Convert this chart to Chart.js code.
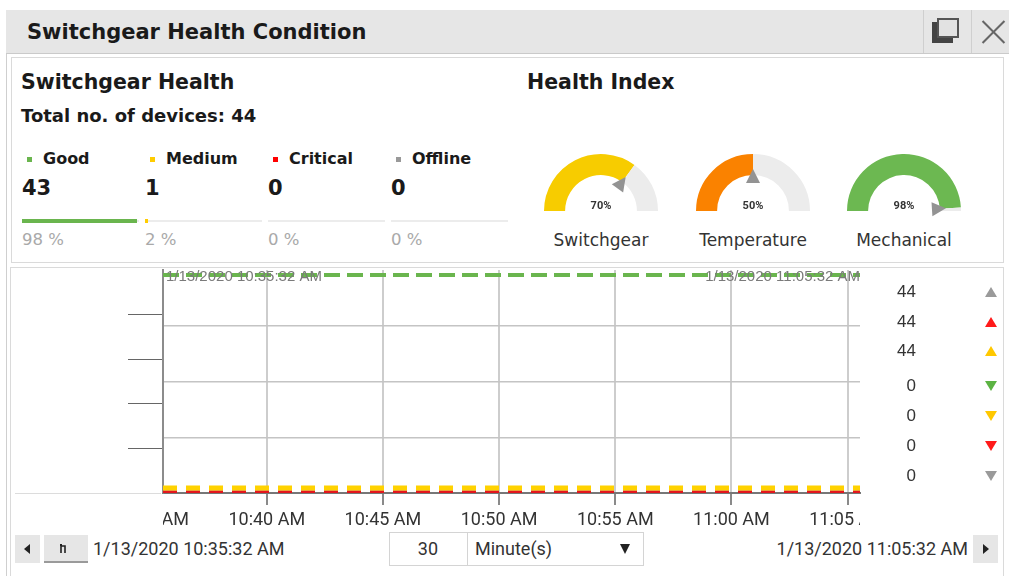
<!DOCTYPE html>
<html>
<head>
<meta charset="utf-8">
<title>Switchgear Health Condition</title>
<script src="https://cdn.jsdelivr.net/npm/chart.js@4.4.1/dist/chart.umd.min.js"></script>
<style>
  body { margin: 0; width: 1009px; height: 576px; background: #fff; position: relative; overflow: hidden;
         font-family: 'DejaVu Sans', 'Open Sans', sans-serif; color: #1a1a1a; }
  .abs { position: absolute; white-space: nowrap; }
  .bold { font-weight: 700; }
  .narrow { font-family: 'Roboto', sans-serif; color: #333; font-size: 18px; line-height: 22px; }
  .frame { position: absolute; border: 1px solid #cfcfcf; box-sizing: border-box; }
  .btn { position: absolute; background: #e6e6e6; }
  .tri { position: absolute; width: 0; height: 0; }
</style>
</head>
<body>

<!-- fenetre -->
<div class="frame" style="left:6px; top:10px; width:1010px; height:580px;"></div>
<div class="abs" style="left:6px; top:10px; width:1010px; height:43px; background:#e6e6e6; border-bottom:1px solid #cacaca;"></div>
<div class="abs bold" style="left:27px; top:19px; font-size:21px; line-height:26px; color:#1a1a1a;">Switchgear Health Condition</div>
<div class="abs" style="left:923px; top:10px; width:1px; height:43px; background:#cfcfcf;"></div>
<div class="abs" style="left:971px; top:10px; width:1px; height:43px; background:#cfcfcf;"></div>
<div class="abs" style="left:932px; top:22px; width:21px; height:21px; background:#444;"></div>
<div class="abs" style="left:937px; top:18px; width:22px; height:20px; background:#e2e2e2; border:2px solid #555; box-sizing:border-box;"></div>
<div class="abs" style="left:978px; top:31px; width:31px; height:2px; background:#666; transform:rotate(45deg);"></div>
<div class="abs" style="left:978px; top:31px; width:31px; height:2px; background:#666; transform:rotate(-45deg);"></div>

<!-- panneaux -->
<div class="frame" style="left:11px; top:57px; width:993px; height:206px; border-color:#dadada;"></div>
<div class="frame" style="left:10px; top:267px; width:994px; height:320px; border-color:#dadada;"></div>

<!-- Switchgear Health -->
<div class="abs bold" style="left:21px; top:69px; font-size:20.5px; line-height:26px;">Switchgear Health</div>
<div class="abs bold" style="left:21px; top:105px; font-size:18px; line-height:22px;">Total no. of devices: 44</div>
<div id="stats"></div>

<!-- Health Index -->
<div class="abs bold" style="left:527px; top:69px; font-size:20.5px; line-height:26px;">Health Index</div>
<div id="gauges"></div>

<!-- graphique -->
<div class="abs" style="left:15px; top:493px; width:146px; height:1px; background:#dcdcdc;"></div>
<canvas id="trendChart" width="993" height="264" style="position:absolute; left:10px; top:268px;"></canvas>
<div id="legendSide"></div>

<!-- barre du bas -->
<div class="btn" style="left:15px; top:535px; width:25px; height:28px;"></div>
<div class="tri" style="left:24px; top:544px; border-top:5px solid transparent; border-bottom:5px solid transparent; border-right:6px solid #222;"></div>
<div class="btn" style="left:44px; top:535px; width:44px; height:26px; border-bottom:2px solid #9a9a9a;"></div>
<svg class="abs" style="left:59px; top:542px;" width="12" height="12" viewBox="0 0 12 12">
  <path d="M2 11 V4 H6 V11" fill="none" stroke="#222" stroke-width="1.6"/>
  <rect x="1" y="2" width="2" height="2" fill="#222"/>
</svg>
<div class="abs narrow" style="left:93px; top:538px;">1/13/2020 10:35:32 AM</div>
<div class="frame" style="left:389px; top:532px; width:79px; height:34px; border-color:#d4d4d4;"></div>
<div class="abs narrow" style="left:389px; top:538px; width:49px; text-align:right;">30</div>
<div class="frame" style="left:467px; top:532px; width:177px; height:34px; border-color:#d4d4d4;"></div>
<div class="abs narrow" style="left:475px; top:538px;">Minute(s)</div>
<div class="tri" style="left:620px; top:544px; border-left:5px solid transparent; border-right:5px solid transparent; border-top:10px solid #222;"></div>
<div class="abs narrow" style="left:700px; top:538px; width:268px; text-align:right;">1/13/2020 11:05:32 AM</div>
<div class="btn" style="left:973px; top:535px; width:25px; height:28px;"></div>
<div class="tri" style="left:983px; top:544px; border-top:5px solid transparent; border-bottom:5px solid transparent; border-left:6px solid #222;"></div>

<script>
// Etats des appareils
const statusNames = ['Good', 'Medium', 'Critical', 'Offline'];
const statusColors = ['#6ab54e', '#ffcc00', '#ff0000', '#999999'];
const statusCounts = [43, 1, 0, 0];
const statusPercents = [98, 2, 0, 0];

// Indices de sante
const gaugeNames = ['Switchgear', 'Temperature', 'Mechanical'];
const gaugeValues = [70, 50, 98];
const gaugeColors = ['#f7cc00', '#fa8200', '#6cb851'];

// Serie temporelle
const sampleTimes = ['10:35:32', '10:40:32', '10:45:32', '10:50:32', '10:55:32', '11:00:32', '11:05:32'];
const goodSeries = [43, 43, 43, 43, 43, 43, 43];
const mediumSeries = [1, 1, 1, 1, 1, 1, 1];
const criticalSeries = [0, 0, 0, 0, 0, 0, 0];
const offlineSeries = [0, 0, 0, 0, 0, 0, 0];
const tickLabels = ['10:35 AM', '10:40 AM', '10:45 AM', '10:50 AM', '10:55 AM', '11:00 AM', '11:05 AM'];
const rangeStart = '1/13/2020 10:35:32 AM';
const rangeEnd = '1/13/2020 11:05:32 AM';

// Legende de droite
const sideValues = [44, 44, 44, 0, 0, 0, 0];
const sideColors = ['#9a9a9a', '#ff1a1a', '#ffc800', '#5cb343', '#ffc800', '#ff1a1a', '#9a9a9a'];
const sideUp = [true, true, true, false, false, false, false];

// minutes depuis 10:00
function toMinutes(t) {
    const p = t.split(':').map(Number);
    return (p[0] - 10) * 60 + p[1] + (p[2] || 0) / 60;
}

// --- bloc des etats ---
let html = '';
statusNames.forEach((name, i) => {
    const x = 22 + i * 123;
    html += `<div class="abs" style="left:${x + 5}px; top:157px; width:5px; height:5px; background:${statusColors[i]};"></div>`;
    html += `<div class="abs bold" style="left:${x + 21}px; top:148px; font-size:16px; line-height:22px;">${name}</div>`;
    html += `<div class="abs bold" style="left:${x}px; top:175px; font-size:21px; line-height:26px;">${statusCounts[i]}</div>`;
    html += `<div class="abs" style="left:${x}px; top:220px; width:117px; height:2px; background:#ececec;"></div>`;
    const w = Math.max(Math.round(117 * statusPercents[i] / 100), statusPercents[i] > 0 ? 3 : 0);
    html += `<div class="abs" style="left:${x}px; top:219px; width:${w}px; height:4px; background:${statusColors[i]};"></div>`;
    html += `<div class="abs" style="left:${x}px; top:229px; font-size:16.5px; line-height:22px; color:#a9a9a9;">${statusPercents[i]} %</div>`;
});
document.getElementById('stats').innerHTML = html;

// --- jauges ---
const gaugeCenters = [601, 753, 904];
html = '';
gaugeNames.forEach((name, i) => {
    html += `<canvas id="gauge${i}" width="140" height="79" style="position:absolute; left:${gaugeCenters[i] - 70}px; top:143px;"></canvas>`;
    html += `<div class="abs" style="left:${gaugeCenters[i] - 80}px; top:229px; width:160px; text-align:center; font-size:17px; line-height:22px; color:#333;">${name}</div>`;
});
document.getElementById('gauges').innerHTML = html;

const gaugeNeedle = {
    id: 'gaugeNeedle',
    afterDatasetsDraw(chart) {
        const arc = chart.getDatasetMeta(0).data[0];
        const v = chart.data.datasets[0].data[0];
        const a = -Math.PI + Math.PI * v / 100;
        const ctx = chart.ctx;
        const cx = arc.x, cy = arc.y;
        const dx = Math.cos(a), dy = Math.sin(a);
        ctx.save();
        ctx.fillStyle = '#939393';
        ctx.beginPath();
        ctx.moveTo(cx + dx * 42, cy + dy * 42);
        ctx.lineTo(cx + dx * 28 - dy * 7, cy + dy * 28 + dx * 7);
        ctx.lineTo(cx + dx * 28 + dy * 7, cy + dy * 28 - dx * 7);
        ctx.closePath();
        ctx.fill();
        ctx.fillStyle = '#333';
        ctx.font = 'bold 11px "Roboto", sans-serif';
        ctx.textAlign = 'center';
        ctx.textBaseline = 'middle';
        ctx.fillText(v + '%', cx, cy - 5);
        ctx.restore();
    }
};

gaugeValues.forEach((v, i) => {
    new Chart(document.getElementById('gauge' + i), {
        type: 'doughnut',
        data: {
            datasets: [{
                data: [v, 100 - v],
                backgroundColor: [gaugeColors[i], '#ececec'],
                borderWidth: 0
            }]
        },
        options: {
            responsive: false,
            animation: false,
            rotation: -90,
            circumference: 180,
            radius: 57,
            cutout: '63%',
            plugins: { legend: { display: false }, tooltip: { enabled: false } }
        },
        plugins: [gaugeNeedle]
    });
});

// --- legende de droite ---
const sideRows = [292, 322, 351, 386, 416, 446, 476];
html = '';
sideValues.forEach((v, i) => {
    const y = sideRows[i];
    html += `<div class="abs" style="left:860px; top:${y - 11}px; width:56px; text-align:right; font-family:'Liberation Sans', sans-serif; font-size:17px; line-height:22px; color:#333;">${v}</div>`;
    const b = sideUp[i] ? `border-bottom:10px solid ${sideColors[i]};` : `border-top:10px solid ${sideColors[i]};`;
    html += `<div class="tri" style="left:985px; top:${y - 5}px; border-left:6px solid transparent; border-right:6px solid transparent; ${b}"></div>`;
});
document.getElementById('legendSide').innerHTML = html;

// --- graphique principal ---
const xMin = toMinutes(sampleTimes[0]);
const xMax = toMinutes(sampleTimes[sampleTimes.length - 1]);
const tickMinutes = tickLabels.map(l => toMinutes(l.split(' ')[0] + ':00'));

function series(values) {
    return values.map((v, i) => ({ x: toMinutes(sampleTimes[i]), y: v }));
}

const cornerLabels = {
    id: 'cornerLabels',
    afterDatasetsDraw(chart) {
        const { ctx, chartArea } = chart;
        ctx.save();
        ctx.font = '15px "Liberation Sans", sans-serif';
        ctx.fillStyle = '#7a7a7a';
        ctx.textBaseline = 'middle';
        ctx.textAlign = 'left';
        ctx.fillText(rangeStart, chartArea.left + 3, chartArea.top + 7);
        ctx.textAlign = 'right';
        ctx.fillText(rangeEnd, chartArea.right, chartArea.top + 7);
        ctx.restore();
    }
};

// les etiquettes de l'axe x sont coupees aux bords de la zone du graphique
const clipXLabels = {
    id: 'clipXLabels',
    beforeDraw(chart) {
        const sx = chart.scales.x;
        if (sx._clipPatched) return;
        const orig = sx.drawLabels;
        sx.drawLabels = function (area) {
            const ctx = this.ctx;
            ctx.save();
            ctx.beginPath();
            ctx.rect(chart.chartArea.left, this.top, chart.chartArea.right - chart.chartArea.left, this.bottom - this.top);
            ctx.clip();
            orig.call(this, area);
            ctx.restore();
        };
        sx._clipPatched = true;
    }
};

const dashed = (label, data, color, dash, width) => ({
    label: label,
    data: series(data),
    borderColor: color,
    borderWidth: width,
    borderDash: dash,
    pointRadius: 0,
    fill: false,
    tension: 0,
    clip: 0
});

new Chart(document.getElementById('trendChart'), {
    type: 'line',
    data: {
        datasets: [
            dashed('Good', goodSeries, '#6ab54e', [16, 7], 4),
            dashed('Medium', mediumSeries, '#ffd200', [14, 9], 5),
            dashed('Critical', criticalSeries, '#e3161e', [14, 9], 5),
            dashed('Offline', offlineSeries, '#999999', [14, 9], 5)
        ]
    },
    options: {
        responsive: false,
        animation: false,
        layout: { padding: { top: 2, right: 143, left: 0, bottom: 0 } },
        plugins: { legend: { display: false }, tooltip: { enabled: false } },
        scales: {
            x: {
                type: 'linear',
                min: xMin,
                max: xMax,
                afterBuildTicks: s => { s.ticks = tickMinutes.map(v => ({ value: v })); },
                afterFit: s => { s.height = 39; },
                ticks: {
                    autoSkip: false,
                    maxRotation: 0,
                    padding: 5,
                    color: '#333',
                    font: { family: '"Roboto", sans-serif', size: 18 },
                    callback: (v, i) => tickLabels[i]
                },
                grid: {
                    color: c => (c.tick && c.tick.value < xMin) ? 'rgba(0,0,0,0)' : '#cdcdcd',
                    lineWidth: 2,
                    tickLength: 12,
                    tickColor: c => (c.tick && c.tick.value < xMin) ? 'rgba(0,0,0,0)' : '#8a8a8a'
                },
                border: { color: '#777', width: 2 }
            },
            y: {
                position: 'left',
                weight: 0,
                min: 0,
                max: 44,
                afterBuildTicks: s => { s.ticks = [0, 11, 22, 33, 44].map(v => ({ value: v })); },
                afterFit: s => { s.width = 0; },
                ticks: { display: false },
                grid: {
                    drawTicks: false,
                    lineWidth: 1.5,
                    color: c => (c.tick && c.tick.value > 0 && c.tick.value < 44) ? '#c4c4c4' : 'rgba(0,0,0,0)'
                },
                border: { color: '#8c8c8c', width: 2 }
            },
            y2: {
                position: 'left',
                weight: 1,
                min: 0,
                max: 5,
                afterBuildTicks: s => { s.ticks = [0, 1, 2, 3, 4, 5].map(v => ({ value: v })); },
                afterFit: s => { s.width = 153; },
                ticks: { display: false },
                grid: {
                    drawOnChartArea: false,
                    tickLength: 35,
                    tickColor: c => (c.tick && c.tick.value > 0 && c.tick.value < 5) ? '#666' : 'rgba(0,0,0,0)'
                },
                border: { display: false }
            }
        }
    },
    plugins: [cornerLabels, clipXLabels]
});
</script>
</body>
</html>
